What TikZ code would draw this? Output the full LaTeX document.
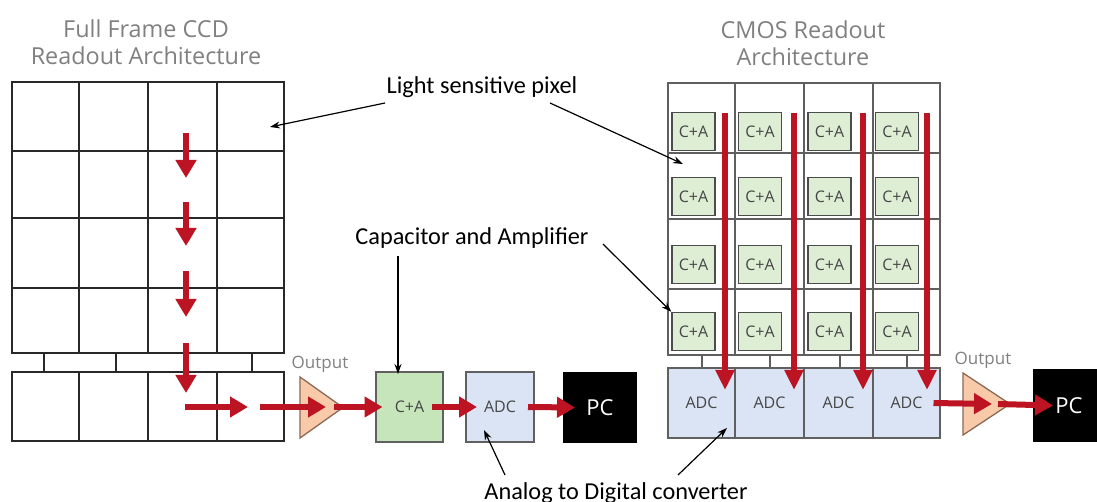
\documentclass[tikz,border=0pt]{standalone}
\usepackage{fontspec}
\setmainfont{Carlito}
\newfontfamily\titlefont{Open Sans}
\usetikzlibrary{arrows.meta}
\definecolor{arrowred}{RGB}{188,20,34}
\definecolor{titlegray}{RGB}{128,128,128}
\definecolor{boxtext}{RGB}{70,70,70}
\definecolor{gridgray}{RGB}{40,40,40}
\definecolor{cmosgrid}{RGB}{95,95,95}
\definecolor{cagreen}{RGB}{198,229,186}
\definecolor{cagreenlight}{RGB}{222,238,212}
\definecolor{adcblue}{RGB}{218,228,244}
\definecolor{ampfill}{RGB}{248,202,170}
\definecolor{ampdraw}{RGB}{140,105,85}
\tikzset{
  gridline/.style={draw=gridgray, line width=1.3bp},
  cmosline/.style={draw=cmosgrid, line width=1.3bp},
  title/.style={font=\titlefont\fontsize{23.4bp}{27bp}\selectfont, text=titlegray, align=center, inner sep=0pt},
  outlabel/.style={font=\titlefont\fontsize{17bp}{20bp}\selectfont, text=titlegray, inner sep=0pt},
  annot/.style={font=\fontsize{24.3bp}{28bp}\selectfont, text=black, inner sep=0pt},
  boxlbl/.style={font=\titlefont\fontsize{16bp}{19bp}\selectfont, text=boxtext},
  cabox/.style={draw=gray!75!black, line width=1.5bp, fill=cagreen, minimum width=67bp, minimum height=70bp, inner sep=0pt, boxlbl},
  smallca/.style={draw=gray!60!black, line width=1.5bp, fill=cagreenlight, minimum width=43bp, minimum height=38bp, inner sep=0pt, boxlbl},
  adcbox/.style={draw=gray!75!black, line width=1.3bp, fill=adcblue, minimum width=68bp, minimum height=70bp, inner sep=0pt, boxlbl},
  pcbox/.style={fill=black, minimum width=74bp, minimum height=71bp, inner sep=0pt, text=white, font=\titlefont\fontsize{22bp}{26bp}\selectfont},
  amp/.style={draw=ampdraw, line width=1.3bp, fill=ampfill, line join=miter},
  redarrow/.style={draw=arrowred, line width=6bp, -{Triangle[width=20bp,length=18bp]}},
  redcol/.style={draw=arrowred, line width=5.5bp, -{Triangle[width=18bp,length=20bp]}},
  annarrow/.style={draw=black, line width=1.2bp, -{Stealth[length=10bp,width=7bp]}},
}
\begin{document}
\begin{tikzpicture}[x=1bp,y=-1bp]
\useasboundingbox (0,0) rectangle (1097,502);

% ---------- Titles ----------
\node[title] (ccdtitle) at (146,42) {Full Frame CCD\\Readout Architecture};
\node[title] (cmostitle) at (803,43) {CMOS Readout\\Architecture};

% ---------- CCD grid ----------
\draw[gridline] (12,82) rectangle (284,353);
\foreach \x in {79,148,217} \draw[gridline] (\x,82) -- (\x,353);
\foreach \y in {151,218,288} \draw[gridline] (12,\y) -- (284,\y);
\draw[gridline] (12,372) rectangle (284,441);
\foreach \x in {79,148,217} \draw[gridline] (\x,372) -- (\x,441);
\foreach \x in {44,116,252} \draw[gridline] (\x,353) -- (\x,372);

% ---------- CCD readout chain ----------
\draw[amp] (300,377) -- (343,407.5) -- (300,438) -- cycle;
\node[outlabel] (out1) at (320,364) {Output};
\node[cabox] (ca1) at (409.5,407) {C+A};
\node[adcbox] (adc1) at (500,407) {ADC};
\node[pcbox] (pc1) at (600,407.5) {PC};

\foreach \t/\b in {133/178, 202/246, 271/317, 343/393}
  \draw[redarrow] (186,\t) -- (186,\b);
\coordinate (h1s) at (185,407);
\coordinate (h1e) at (248,407);
\coordinate (h2s) at (260,407);
\coordinate (h2e) at (326,407);
\coordinate (h3s) at (334,407);
\draw[redarrow] (h1s) -- (h1e);
\draw[redarrow] (h2s) -- (h2e);
\draw[redarrow] (h3s) -- ([xshift=-27bp]ca1.center);
\draw[redarrow] ([xshift=22bp]ca1.center) -- ([xshift=-23bp]adc1.center);
\draw[redarrow] ([xshift=28bp]adc1.center) -- ([xshift=-25bp]pc1.center);

% ---------- CMOS grid ----------
\draw[cmosline] (668,83) rectangle (940,355);
\foreach \x in {735,804,873} \draw[cmosline] (\x,83) -- (\x,355);
\foreach \y in {153,219,289} \draw[cmosline] (668,\y) -- (940,\y);
\foreach \x [count=\i] in {693.5,760,829.5,897}
  \foreach \y [count=\j] in {131.5,196.5,264.5,331.5}
    \node[smallca] (ca-\j-\i) at (\x,\y) {C+A};
\foreach \x in {702,770,840,907} \draw[cmosline] (\x,355) -- (\x,368);
\node[adcbox, minimum width=67bp] (adcA) at (701.5,403) {ADC};
\node[adcbox, minimum width=69bp] (adcB) at (769.5,403) {ADC};
\node[adcbox, minimum width=69bp] (adcC) at (838.5,403) {ADC};
\node[adcbox, minimum width=67bp] (adcD) at (906.5,403) {ADC};
\foreach \x in {725,794,863,927}
  \draw[redcol] (\x,113) -- (\x,390);

\draw[amp] (963,373) -- (1010,404) -- (963,435) -- cycle;
\node[outlabel] (out2) at (983,360) {Output};
\node[pcbox, minimum width=64bp, minimum height=73bp] (pc2) at (1065,405.5) {\hspace{8bp}PC};
\coordinate (o2s) at (998,404);
\draw[redarrow] ([xshift=27bp]adcD.center) -- (992,404);
\draw[redarrow] (o2s) -- ([xshift=-12bp]pc2.center);

% ---------- Annotations ----------
\node[annot] (lsp) at (482,87) {Light sensitive pixel};
\node[annot] (cap) at (472,238) {Capacitor and Amplifier};
\node[annot, anchor=base] (adcl) at (616,499) {Analog to Digital converter};

\coordinate (lspL) at (385,103);
\coordinate (lspR) at (550,103);
\coordinate (pixL) at (270,127);
\coordinate (pixR) at (683,164);
\draw[annarrow] (lspL) -- (pixL);
\draw[annarrow] (lspR) -- (pixR);

\coordinate (capR) at (603,244);
\coordinate (capB) at (398,256);
\draw[annarrow] (capR) -- (ca-4-1.north west);
\draw[annarrow] (capB) -- (398,374);

\coordinate (adcLt) at (505,475);
\coordinate (adcRt) at (678,475);
\draw[annarrow] (adcLt) -- (484,430);
\draw[annarrow] (adcRt) -- (727,428);
\end{tikzpicture}
\end{document}
